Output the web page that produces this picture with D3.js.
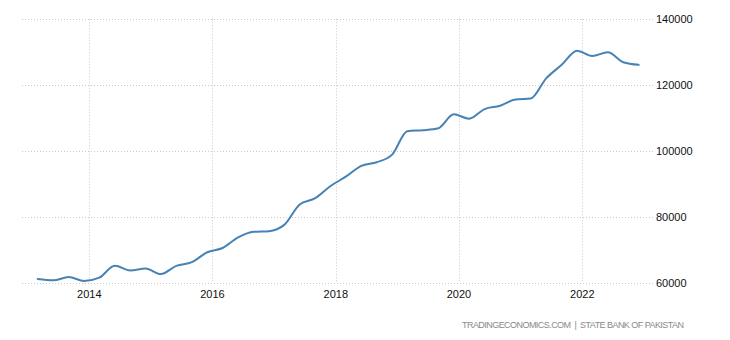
<!DOCTYPE html>
<html>
<head>
<meta charset="utf-8">
<script src="https://cdn.jsdelivr.net/npm/d3@7"></script>
<style>
  html, body { margin: 0; padding: 0; background: #fff; }
  svg { display: block; font-family: "Liberation Sans", Arial, sans-serif; }
</style>
</head>
<body>
<svg id="chart" width="730" height="340"></svg>
<script>
// ---- data ----
const dates = [
  "2013-03-01","2013-06-01","2013-09-01","2013-12-01",
  "2014-03-01","2014-06-01","2014-09-01","2014-12-01",
  "2015-03-01","2015-06-01","2015-09-01","2015-12-01",
  "2016-03-01","2016-06-01","2016-09-01","2016-12-01",
  "2017-03-01","2017-06-01","2017-09-01","2017-12-01",
  "2018-03-01","2018-06-01","2018-09-01","2018-12-01",
  "2019-03-01","2019-06-01","2019-09-01","2019-12-01",
  "2020-03-01","2020-06-01","2020-09-01","2020-12-01",
  "2021-03-01","2021-06-01","2021-09-01","2021-12-01",
  "2022-03-01","2022-06-01","2022-09-01","2022-12-01"
];
const values = [
  61300, 60900, 61900, 60700,
  61700, 65300, 63900, 64500,
  62800, 65300, 66400, 69400,
  70700, 73900, 75600, 75800,
  77700, 83900, 85800, 89500,
  92300, 95600, 96700, 99000,
  106100, 106400, 107000, 111200,
  109900, 112800, 113800, 115700,
  116000, 122100, 126200, 130500,
  128900, 130000, 127000, 126200
];
const xTickYears = [2014, 2016, 2018, 2020, 2022];
const yTickValues = [60000, 80000, 100000, 120000, 140000];
const sourceText = "TRADINGECONOMICS.COM  |  STATE BANK OF PAKISTAN";

// ---- layout ----
const svg = d3.select("#chart");
const plotLeft = 22, plotRight = 653, plotTop = 19.3, plotBottom = 283.3;
const parse = d3.timeParse("%Y-%m-%d");
const data = dates.map((d, i) => ({ date: parse(d), value: values[i] }));

const x = d3.scaleTime()
  .domain([new Date(2014, 0, 1), new Date(2022, 0, 1)])
  .range([89.3, 582.3]);
const y = d3.scaleLinear()
  .domain([60000, 140000])
  .range([plotBottom, plotTop]);

const gridColor = "#c8c8c8";

// horizontal gridlines
svg.append("g").selectAll("line")
  .data(yTickValues).join("line")
  .attr("x1", plotLeft).attr("x2", plotRight)
  .attr("y1", d => Math.round(y(d)) + 0.5).attr("y2", d => Math.round(y(d)) + 0.5)
  .attr("stroke", gridColor).attr("stroke-width", 1)
  .attr("stroke-dasharray", "1,2");

// vertical gridlines
svg.append("g").selectAll("line")
  .data(xTickYears).join("line")
  .attr("x1", d => Math.round(x(new Date(d, 0, 1))) + 0.5)
  .attr("x2", d => Math.round(x(new Date(d, 0, 1))) + 0.5)
  .attr("y1", plotTop).attr("y2", plotBottom)
  .attr("stroke", gridColor).attr("stroke-width", 1)
  .attr("stroke-dasharray", "1,2");

// y labels (right)
svg.append("g").selectAll("text")
  .data(yTickValues).join("text")
  .attr("x", 656)
  .attr("y", d => y(d) + 4)
  .attr("font-size", 11)
  .attr("fill", "#111")
  .text(d => d3.format("d")(d));

// x labels
svg.append("g").selectAll("text")
  .data(xTickYears).join("text")
  .attr("x", d => x(new Date(d, 0, 1)))
  .attr("y", 298)
  .attr("text-anchor", "middle")
  .attr("font-size", 11)
  .attr("fill", "#111")
  .text(d => d);

// line
const line = d3.line()
  .x(d => x(d.date))
  .y(d => y(d.value))
  .curve(d3.curveMonotoneX);

svg.append("path")
  .datum(data)
  .attr("d", line)
  .attr("fill", "none")
  .attr("stroke", "#4682b4")
  .attr("stroke-width", 2)
  .attr("stroke-linejoin", "round")
  .attr("stroke-linecap", "round");

// source
svg.append("text")
  .attr("x", 462)
  .attr("y", 327.5)
  .attr("font-size", 9)
  .attr("fill", "#8a8a8a")
  .attr("textLength", 222)
  .attr("lengthAdjust", "spacing")
  .style("white-space", "pre")
  .text(sourceText);
</script>
</body>
</html>
